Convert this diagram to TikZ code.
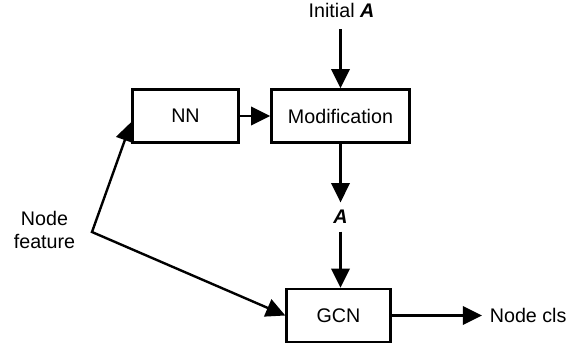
\documentclass[tikz,border=0pt]{standalone}
\usepackage{fontspec}
\setmainfont{Liberation Sans}
\usetikzlibrary{positioning,arrows.meta,calc}

\begin{document}
\begin{tikzpicture}[
  x=0.25mm, y=-0.25mm,
  font=\fontsize{14}{17}\selectfont,
  blk/.style = {draw, line width=0.6mm, minimum height=13.25mm, inner sep=0pt},
  lbl/.style = {inner sep=1.9mm, align=center},
  ar/.style  = {-{Triangle[length=4.8mm, width=4.6mm]}, line width=0.6mm},
  arr/.style = {ar, {Triangle[length=4.8mm, width=4.6mm]}-{Triangle[length=4.8mm, width=4.6mm]}},
]
\useasboundingbox (0,0) rectangle (575,349);

% ---- blocks
\node[blk, minimum width=26.5mm] (nn)  at (185.5,116) {NN};
\node[blk, minimum width=34.5mm] (mod) at (340.5,116) {Modification};
\node[blk, minimum width=26mm]   (gcn) at (338.5,315.5) {GCN};

% ---- labels
\node[lbl] (init) at (341.5,10)  {Initial \textbf{\textit{A}}};
\node[lbl] (amat) at (340.5,217) {\textbf{\textit{A}}};
\node[lbl] (feat) at (44.5,230)  {Node\\feature};
\node[lbl, anchor=west] (cls) at (482,315.5) {Node cls};
\coordinate (fbend) at (92,232);

% ---- flow
\draw[ar, shorten <=1mm] (init.south -| mod.north) -- (mod);
\draw[ar] (nn) -- (mod);
\draw[ar] (mod) -- (amat);
\draw[ar] (amat) -- (amat |- gcn.north);
\draw[ar] (gcn) -- (cls);
\draw[arr] ($(nn.west)+(0,6)$) -- (fbend) -- (gcn.west);

\end{tikzpicture}
\end{document}
